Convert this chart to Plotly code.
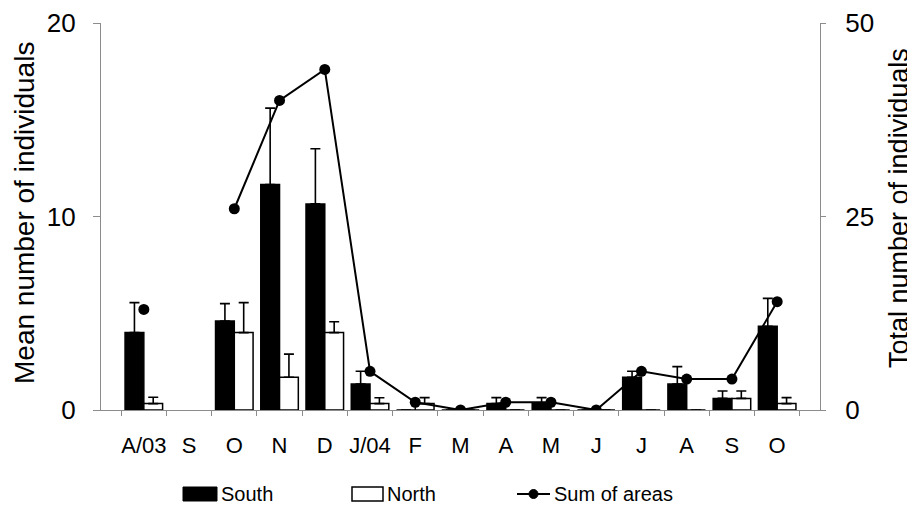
import plotly.graph_objects as go

months = ["A/03", "S", "O", "N", "D", "J/04", "F", "M", "A", "M ", "J", "J ", "A ", "S ", "O "]
tick_text = ["A/03", "S", "O", "N", "D", "J/04", "F", "M", "A", "M", "J", "J", "A", "S", "O"]

south = [4.0, None, 4.6, 11.65, 10.65, 1.34, 0, 0, 0.33, 0.33, 0, 1.69, 1.34, 0.6, 4.33]
south_err = [1.55, None, 0.9, 3.95, 2.85, 0.66, 0, 0, 0.31, 0.31, 0, 0.31, 0.9, 0.38, 1.44]
north = [0.33, None, 4.0, 1.69, 4.0, 0.33, 0.33, 0, 0, 0, 0, 0, 0, 0.6, 0.33]
north_err = [0.33, None, 1.55, 1.2, 0.56, 0.3, 0.31, 0, 0, 0, 0, 0, 0, 0.38, 0.31]
total = [13, None, 26, 40, 44, 5, 1, 0, 1, 1, 0, 5, 4, 4, 14]

legend_names = ["South", "North", "Sum of areas"]

FONT = "Liberation Sans, Arial, sans-serif"
AXC = "#8c8c8c"
OFF = 8  # page body margin
VW, VH = 915, 505
W, H = VW - OFF, VH - OFF
ML, MR, MT, MB = 101 - OFF, VW - 820, 23 - OFF, VH - 410
PW, PH = W - ML - MR, H - MT - MB


def px(x):
    return (x - OFF - ML) / PW


def py(y):
    return (H - MB - (y - OFF)) / PH


fig = go.Figure()
fig.add_trace(go.Bar(
    x=months, y=south, name=legend_names[0],
    marker=dict(color="black", line=dict(color="black", width=1.5)),
    error_y=dict(type="data", array=south_err, arrayminus=[0]*len(months), symmetric=False,
                 color="black", thickness=1.6, width=5),
))
fig.add_trace(go.Bar(
    x=months, y=north, name=legend_names[1],
    marker=dict(color="white", line=dict(color="black", width=1.5)),
    error_y=dict(type="data", array=north_err, arrayminus=[0]*len(months), symmetric=False,
                 color="black", thickness=1.6, width=5),
))
fig.add_trace(go.Scatter(
    x=months, y=total, name=legend_names[2], yaxis="y2",
    mode="lines+markers", connectgaps=False,
    line=dict(color="black", width=2),
    marker=dict(color="black", size=11, symbol="circle"),
))

LY = 494
shapes = [
    dict(type="rect", xref="paper", yref="paper", x0=px(183), x1=px(217), y0=py(LY - 7), y1=py(LY + 7),
         fillcolor="black", line=dict(color="black", width=1)),
    dict(type="rect", xref="paper", yref="paper", x0=px(352), x1=px(383), y0=py(LY - 7), y1=py(LY + 7),
         fillcolor="white", line=dict(color="black", width=1.5)),
    dict(type="line", xref="paper", yref="paper", x0=px(517), x1=px(550), y0=py(LY), y1=py(LY),
         line=dict(color="black", width=2)),
    dict(type="circle", xref="paper", yref="paper", x0=px(529), x1=px(538), y0=py(LY - 4.5), y1=py(LY + 4.5),
         fillcolor="black", line=dict(color="black", width=1)),
]
annotations = [
    dict(text=legend_names[0], xref="paper", yref="paper", x=px(219), y=py(LY), xanchor="left",
         yanchor="middle", showarrow=False, font=dict(size=20, family=FONT, color="black")),
    dict(text=legend_names[1], xref="paper", yref="paper", x=px(385), y=py(LY), xanchor="left",
         yanchor="middle", showarrow=False, font=dict(size=20, family=FONT, color="black")),
    dict(text=legend_names[2], xref="paper", yref="paper", x=px(552), y=py(LY), xanchor="left",
         yanchor="middle", showarrow=False, font=dict(size=20, family=FONT, color="black")),
    dict(text="Mean number of individuals", xref="paper", yref="paper", x=px(25), y=py(213),
         xanchor="center", yanchor="middle", textangle=-90, showarrow=False,
         font=dict(size=28, family=FONT, color="black")),
    dict(text="Total number of individuals", xref="paper", yref="paper", x=px(899), y=py(208),
         xanchor="center", yanchor="middle", textangle=-90, showarrow=False,
         font=dict(size=27, family=FONT, color="black")),
]

fig.update_layout(
    width=W, height=H,
    margin=dict(l=ML, r=MR, t=MT, b=MB, autoexpand=False),
    plot_bgcolor="white", paper_bgcolor="white",
    barmode="group", bargap=0.17, bargroupgap=0,
    font=dict(family=FONT, color="black", size=20),
    showlegend=False,
    shapes=shapes, annotations=annotations,
    xaxis=dict(
        type="category", categoryorder="array", categoryarray=months,
        tickmode="array", tickvals=months, ticktext=tick_text, tickangle=0,
        tickson="boundaries", ticks="outside", ticklen=5, tickcolor=AXC,
        showline=True, linecolor=AXC, linewidth=1.2, showgrid=False, zeroline=False,
        tickfont=dict(size=22, family=FONT, color="black"), ticklabelstandoff=15,
        automargin=False,
    ),
    yaxis=dict(
        range=[0, 20], tickvals=[0, 10, 20], ticks="outside", ticklen=7, tickcolor=AXC,
        showline=True, linecolor=AXC, linewidth=1.2, showgrid=False, zeroline=False,
        tickfont=dict(size=26, family=FONT, color="black"), ticklabelstandoff=12,
        automargin=False,
    ),
    yaxis2=dict(
        range=[0, 50], tickvals=[0, 25, 50], overlaying="y", side="right",
        ticks="outside", ticklen=5, tickcolor=AXC,
        showline=True, linecolor=AXC, linewidth=1.2, showgrid=False, zeroline=False,
        tickfont=dict(size=26, family=FONT, color="black"), ticklabelstandoff=14,
        automargin=False,
    ),
)

fig.write_html("out.html")
